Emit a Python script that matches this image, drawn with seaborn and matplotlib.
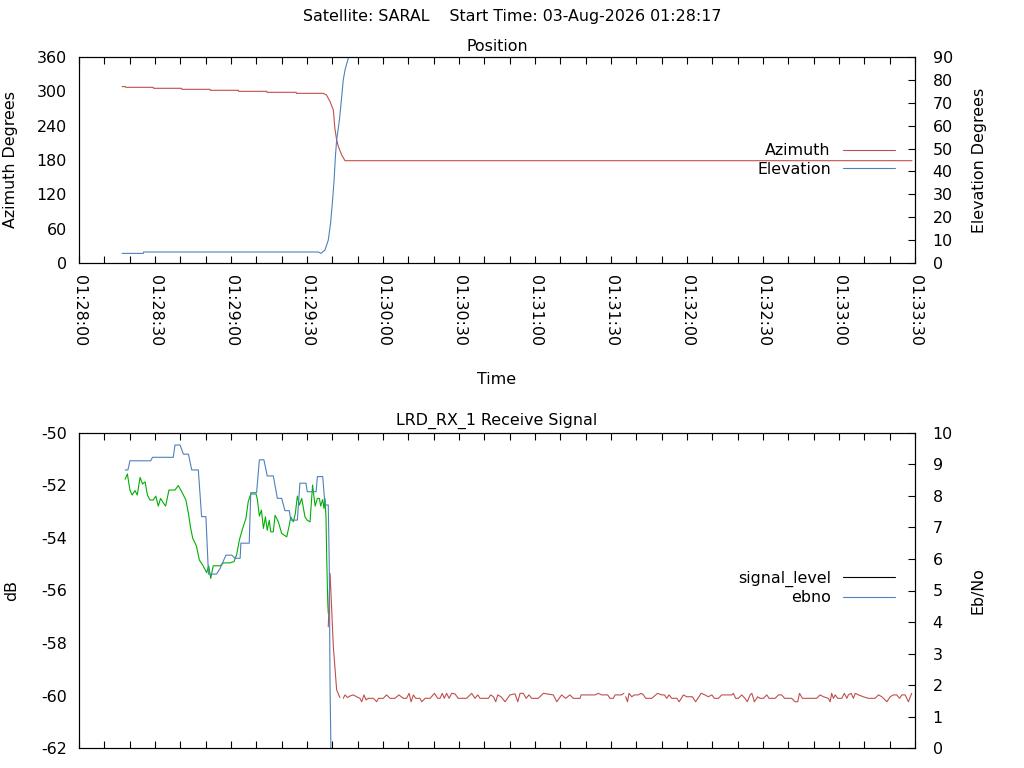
import matplotlib
matplotlib.use("Agg")
import matplotlib.pyplot as plt
import matplotlib.dates as mdates
from matplotlib.lines import Line2D
import pandas as pd
import seaborn as sns

sns.set_style("white")
plt.rcParams["font.family"] = ["DejaVu Sans"]
plt.rcParams.update({"text.color": "black", "axes.labelcolor": "black",
                     "xtick.color": "black", "ytick.color": "black",
                     "axes.edgecolor": "black", "axes.unicode_minus": False})
FS = 11.4

RED = "#c0504d"
BLUE = "#4f81bd"
GREEN = "#00b000"

BASE = pd.Timestamp("2026-08-03 01:28:00")
X_END_S = 330

# ---- Position panel (seconds after 01:28:00) ----
az_t = [17.0, 18.4, 18.5, 29.3, 29.4, 40.5, 40.6, 51.7, 51.8, 62.9, 63.0, 74.1, 74.2,
        85.7, 85.8, 96.4, 97.7, 99.1, 100.4, 101.0, 101.7, 102.4, 103.7, 105.0, 328.8]
az_v = [308.2, 308.2, 307.0, 307.0, 305.3, 305.3, 303.5, 303.5, 301.8, 301.8, 300.0, 300.0, 298.3,
        298.3, 296.5, 296.5, 293.6, 282.0, 267.4, 235.4, 215.0, 203.3, 188.7, 178.8, 178.8]

el_t = [17.0, 25.4, 25.5, 94.5, 95.5, 97.1, 98.4, 99.3, 100.1, 100.7, 101.2, 101.7,
        102.8, 103.7, 104.3, 105.0, 105.7, 106.3, 107.0]
el_v = [4.2, 4.2, 4.8, 4.8, 4.2, 5.7, 10.0, 17.3, 27.5, 36.3, 46.4, 53.7,
        62.5, 72.7, 79.9, 84.3, 87.2, 89.4, 92.0]

# ---- Receive signal panel ----
ebno_t = [18.2, 19.3, 20.1, 28.3, 29.0, 37.2, 37.9, 39.9, 41.2, 43.2, 44.5, 47.1, 48.4, 50.1,
          51.1, 54.3, 55.7, 58.0, 60.3, 61.6, 63.6, 63.9, 67.2, 67.8, 70.1, 71.2, 73.0, 74.3,
          76.7, 78.3, 80.0, 81.3, 83.0, 83.6, 86.2, 87.2, 89.6, 90.1, 93.6, 94.1, 96.2, 97.1,
          98.4, 98.8, 99.1, 99.6]
ebno_v = [8.82, 8.82, 9.11, 9.11, 9.22, 9.22, 9.61, 9.61, 9.32, 9.32, 8.82, 8.82, 7.34, 7.34,
          5.52, 5.52, 5.70, 6.12, 6.12, 6.02, 6.02, 6.50, 6.50, 8.10, 8.10, 9.14, 9.14, 8.63,
          8.63, 7.92, 7.92, 7.53, 7.53, 7.23, 7.23, 8.40, 8.40, 8.13, 8.13, 8.61, 8.61, 7.71,
          7.71, 5.75, 1.95, -1.0]

sig_lock_t = [18.2, 19.1, 20.1, 21.0, 22.1, 23.0, 24.1, 25.1, 26.1, 27.0,
              28.0, 29.3, 30.3, 31.3, 32.2, 33.3, 34.2, 35.5, 37.9, 39.2,
              40.9, 42.2, 43.2, 44.1, 44.9, 45.8, 46.4, 47.5, 48.8, 50.4,
              51.2, 52.0, 53.0, 55.7, 57.0, 59.6, 61.2, 62.2, 63.3, 64.6,
              65.9, 66.8, 67.8, 69.9, 70.4, 71.2, 72.0, 72.8, 73.6, 74.3,
              75.1, 75.7, 76.7, 77.4, 78.7, 80.0, 80.9, 82.0, 83.0, 83.6,
              84.6, 85.4, 86.2, 87.0, 87.9, 89.2, 90.1, 91.2, 92.2, 93.2,
              94.1, 94.9, 95.4, 96.2, 96.7, 97.1, 97.5, 97.8, 98.2, 98.4]
sig_lock_v = [-51.77, -51.57, -52.18, -52.37, -52.20, -52.37, -51.70, -51.95, -51.87, -52.37,
              -52.56, -52.56, -52.41, -52.79, -52.50, -52.67, -52.79, -52.18, -52.18, -52.01,
              -52.31, -52.56, -53.07, -53.64, -54.02, -54.19, -54.33, -54.84, -55.03, -55.32,
              -55.06, -55.54, -55.06, -55.06, -54.95, -54.95, -54.90, -54.65, -54.08, -53.64,
              -53.26, -52.62, -52.33, -52.33, -52.54, -53.17, -52.94, -53.64, -53.20, -53.71,
              -53.33, -53.77, -53.77, -53.14, -53.39, -53.83, -53.89, -53.96, -53.52, -53.20,
              -53.39, -53.07, -52.41, -52.75, -52.50, -53.20, -53.33, -53.39, -51.99, -52.79,
              -52.50, -52.50, -52.79, -52.54, -52.88, -52.50, -53.26, -54.84, -56.49, -56.87]

sig_drop_t = [98.4, 99.1, 99.7, 100.4, 101.1, 101.7, 103.0]
sig_drop_v = [-57.38, -55.35, -56.62, -58.14, -59.02, -59.78, -60.07]

sig_floor1_t = [104.3, 105.0, 106.0, 107.0, 108.3, 109.6, 110.9, 111.6, 112.5, 113.3,
                114.2, 116.2, 117.5, 118.2, 120.1, 121.4, 122.8, 124.7, 126.3, 128.0,
                129.3, 130.3, 131.1, 132.0, 132.9, 134.6, 135.3, 136.6, 138.6, 140.3,
                141.6, 142.5, 143.4, 144.2, 145.1, 146.1, 147.1, 148.4, 149.7, 153.0,
                155.0, 156.3, 157.4, 158.3, 161.6, 162.5, 163.6, 164.5, 165.3, 166.6,
                168.2, 170.1, 172.1, 173.2, 174.1, 175.4, 176.5, 177.6, 178.7, 181.3,
                183.3, 187.2, 188.6, 190.5, 192.1, 193.8, 195.1, 197.8, 198.2, 203.7,
                205.0, 206.3, 208.7, 209.6, 210.9, 211.6, 214.2, 215.1]
sig_floor1_v = [-60.10, -59.97, -60.07, -60.01, -59.97, -60.04, -60.10, -60.23, -59.97, -60.16,
                -60.10, -60.10, -60.23, -60.10, -60.10, -59.97, -60.10, -60.10, -59.97, -60.10,
                -60.10, -59.91, -60.23, -59.97, -60.10, -60.10, -60.23, -60.10, -60.10, -59.91,
                -60.10, -60.10, -59.91, -60.10, -59.91, -60.10, -59.91, -59.93, -60.10, -60.10,
                -59.91, -60.10, -59.97, -60.10, -60.10, -59.97, -60.04, -60.23, -59.97, -60.04,
                -60.23, -59.97, -59.93, -60.23, -59.91, -59.91, -60.10, -59.97, -60.10, -60.10,
                -59.91, -59.97, -60.23, -59.97, -60.10, -59.97, -60.10, -60.10, -59.97, -59.97,
                -59.91, -59.97, -59.97, -60.10, -60.10, -59.97, -59.97, -59.91]

sig_floor2_t = [215.8, 216.5, 217.1, 218.2, 219.2, 220.8, 221.9, 222.8, 223.7, 226.1,
                228.4, 230.0, 231.1, 232.0, 232.9, 234.0, 236.0, 236.9, 238.6, 239.9,
                242.1, 243.4, 245.6, 247.1, 248.4, 249.8, 250.8, 252.4, 253.7, 257.7,
                258.3, 259.2, 260.3, 261.6, 262.9, 263.8, 264.9, 265.6, 266.6, 267.9,
                268.8, 270.2, 271.5, 272.4, 274.8, 276.1, 277.4, 278.5, 281.3, 282.7,
                283.7, 284.4, 285.6, 291.2, 292.5, 293.9, 295.8, 296.5, 297.1, 297.8,
                298.5, 299.5, 301.1, 302.1, 303.1, 303.7, 304.8, 305.7, 306.4, 307.7,
                309.6, 311.6, 314.2, 315.6, 316.9, 318.9, 320.2, 321.5, 322.8, 323.9,
                324.8, 326.1, 327.4, 328.7]
sig_floor2_v = [-60.04, -60.23, -59.91, -60.04, -59.97, -59.97, -59.91, -59.97, -60.10, -60.10,
                -59.91, -59.97, -59.97, -60.10, -59.97, -60.10, -60.10, -60.23, -59.97, -60.04,
                -60.04, -60.23, -59.91, -59.97, -60.04, -59.97, -60.10, -60.10, -59.97, -59.97,
                -59.91, -60.10, -60.10, -59.97, -60.10, -60.23, -59.97, -59.91, -60.23, -60.04,
                -60.10, -60.10, -59.97, -60.10, -60.10, -59.97, -59.97, -60.10, -60.10, -60.23,
                -60.23, -59.91, -60.10, -60.10, -59.97, -60.04, -60.10, -60.23, -59.91, -60.10,
                -59.97, -60.10, -60.10, -59.91, -60.10, -59.97, -59.91, -60.10, -59.91, -59.97,
                -60.04, -60.10, -60.10, -59.97, -60.04, -60.23, -60.04, -59.97, -59.97, -60.10,
                -59.97, -59.97, -60.23, -59.91]

az_ticks = [0, 60, 120, 180, 240, 300, 360]
el_ticks = list(range(0, 91, 10))
db_ticks = list(range(-62, -49, 2))
ebno_ticks = list(range(0, 11))


def tt(secs):
    return BASE + pd.to_timedelta(secs, unit="s")


def line(ax, t, v, color):
    sns.lineplot(x=tt(t), y=v, ax=ax, color=color, linewidth=0.8,
                 estimator=None, sort=False, legend=False)


fig = plt.figure(figsize=(10.24, 7.68), dpi=100)
W, H = 1024, 768
L, R = 79, 915
ax1 = fig.add_axes([L / W, 1 - 263 / H, (R - L) / W, 206 / H])
ax1r = ax1.twinx()
ax2 = fig.add_axes([L / W, 1 - 748.3 / H, (R - L) / W, 315.6 / H])
ax2r = ax2.twinx()

line(ax1, az_t, az_v, RED)
line(ax1r, el_t, el_v, BLUE)
line(ax2, sig_lock_t, sig_lock_v, GREEN)
line(ax2, sig_drop_t, sig_drop_v, RED)
line(ax2, sig_floor1_t, sig_floor1_v, RED)
line(ax2, sig_floor2_t, sig_floor2_v, RED)
line(ax2r, ebno_t, ebno_v, BLUE)

for ax in (ax1, ax2):
    ax.set_xlim(tt(0), tt(X_END_S))
    ax.xaxis.set_major_locator(mdates.SecondLocator(bysecond=[0, 30]))
    ax.xaxis.set_minor_locator(mdates.SecondLocator(bysecond=[10, 20, 40, 50]))
    ax.xaxis.set_major_formatter(mdates.DateFormatter("%H:%M:%S"))
    ax.tick_params(axis="x", which="both", direction="in", length=5, width=0.8,
                   top=True, bottom=True, labelsize=FS)
    ax.tick_params(axis="y", left=False, right=False, length=0, pad=8.9, labelsize=FS)
    for s in ax.spines.values():
        s.set_linewidth(0.8)
        s.set_color("black")

ax1.tick_params(axis="x", which="major", labelrotation=270, pad=8.6)
ax2.tick_params(axis="x", labelbottom=False)

for axr in (ax1r, ax2r):
    axr.tick_params(axis="y", direction="in", length=5, width=0.8, right=True,
                    left=False, pad=12.7, labelsize=FS)
    for s in axr.spines.values():
        s.set_linewidth(0.8)
        s.set_color("black")

ax1.set_ylim(0, 360)
ax1.set_yticks(az_ticks)
ax1r.set_ylim(0, 90)
ax1r.set_yticks(el_ticks)
ax2.set_ylim(-62, -50)
ax2.set_yticks(db_ticks)
ax2r.set_ylim(0, 10)
ax2r.set_yticks(ebno_ticks)

ax1.set_ylabel("Azimuth Degrees", fontsize=FS)
ax1.yaxis.set_label_coords(-0.073, 0.5)
ax1r.set_ylabel("Elevation Degrees", fontsize=FS)
ax1r.yaxis.set_label_coords(1.0678, 0.5)
ax1.set_xlabel("Time", fontsize=FS)
ax1.xaxis.set_label_coords(0.5, (263 - 379) / 206)
ax1.xaxis.label.set_va("center")

ax2.set_ylabel("dB", fontsize=FS)
ax2.yaxis.set_label_coords(-0.0718, 0.5)
ax2r.set_ylabel("Eb/No", fontsize=FS)
ax2r.yaxis.set_label_coords(1.0666, 0.5)
ax2.set_xlabel("")

ax1.set_title("Position", fontsize=FS, pad=4)
ax2.set_title("LRD_RX_1 Receive Signal", fontsize=FS, pad=5.5)
fig.suptitle("Satellite: SARAL    Start Time: 03-Aug-2026 01:28:17",
             fontsize=FS, y=1 - 17 / H, va="center")

leg_kw = dict(loc="center right", frameon=False, markerfirst=False,
              handlelength=3.25, handletextpad=0.8, labelspacing=0.22,
              borderpad=0, borderaxespad=0, fontsize=FS)
ax1r.legend([Line2D([], [], color=RED, lw=0.8), Line2D([], [], color=BLUE, lw=0.8)],
            ["Azimuth", "Elevation"], bbox_to_anchor=(0.976, (263 - 160) / 206), **leg_kw)
ax2r.legend([Line2D([], [], color="black", lw=0.8), Line2D([], [], color=BLUE, lw=0.8)],
            ["signal_level", "ebno"], bbox_to_anchor=(0.976, (748.3 - 588) / 315.6), **leg_kw)

fig.savefig("out.png", dpi=100)
